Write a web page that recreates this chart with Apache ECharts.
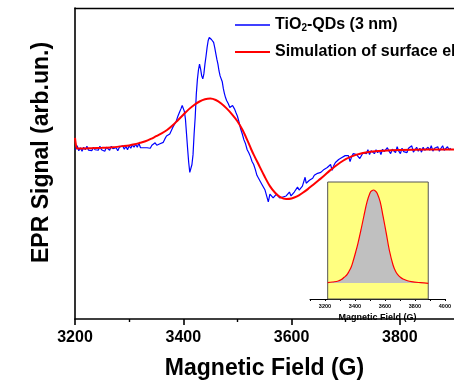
<!DOCTYPE html>
<html><head><meta charset="utf-8">
<script src="https://cdn.jsdelivr.net/npm/echarts@6/dist/echarts.min.js"></script>
<style>html,body{margin:0;padding:0;background:#fff}#c{width:454px;height:385px}</style>
</head><body><div id="c"></div>
<script>
const FONT = '"Liberation Sans", Arial, Helvetica, sans-serif';

// Main plot axis
const mainXRange = [3200, 3900];
const mainYRange = [-173, 143];
const mainMajorTicks = [3200, 3400, 3600, 3800];
const mainMinorTicks = [3300, 3500, 3700];

// Inset axis
const insetXRange = [3100, 4000];
const insetYRange = [-16, 101];
const insetBox = [3218, 3889];

const legendNames = ['TiO2-QDs (3 nm)', 'Simulation of surface electrons'];

// EPR signal, TiO2-QDs (3 nm): [field G, signal arb.]
const blueData = [
[3201,-1],[3204,3],[3207,-2],[3210,1],[3213,-2.5],[3216,1.5],[3219,-1],[3222,2.5],[3225,-1.5],[3228,0.5],
[3231,-2],[3234,1.5],[3237,-1],[3240,1],[3243,-1.5],[3246,2.5],[3249,-1],[3252,1],[3255,-2.5],[3258,1.5],
[3261,-0.5],[3264,-1.5],[3267,2.5],[3270,0],[3273,-2],[3276,1],[3279,-2],[3282,1.5],[3285,0],[3288,3],
[3291,-0.5],[3294,2.5],[3297,-1],[3300,3],[3303,0.5],[3306,4],[3309,1.5],[3312,4.5],[3315,1.5],[3318,5.5],
[3321,1],[3324,-0.5],[3327,1],[3330,-1],[3333,1],[3336,2],[3339,0.5],[3342,3.5],[3345,3],[3348,6],
[3351,3.5],[3354,5.5],[3357,5],[3360,7],[3363,6.5],[3366,10],[3369,13],[3372,11],[3375,15],[3378,17],
[3381,22],[3384,23],[3387,28],[3390,33],[3393,37],[3396,41],[3398,44],[3400,43],[3402,38],[3404,30],
[3406,15],[3408,0],[3410,-14],[3412,-24],[3414,-22],[3416,-16],[3418,-6],[3420,15],[3422,32],[3424,55],
[3426,70],[3428,80],[3430,86],[3432,81],[3434,74],[3436,71],[3438,76],[3440,86],[3442,94],[3444,103],
[3446,110],[3448,113],[3450,112],[3452,111],[3454,110],[3456,108],[3458,103],[3460,97],[3462,91],[3464,86],
[3466,79],[3468,74],[3470,72],[3472,68],[3474,61],[3476,56],[3478,52],[3480,49],[3483,46],[3486,42],
[3489,40],[3491,44],[3493,45],[3495,40],[3497,37],[3500,33],[3503,27],[3506,20],[3509,15],[3512,9],
[3515,5],[3518,-1],[3521,-4],[3524,-8],[3527,-13],[3530,-16],[3533,-21],[3536,-27],[3539,-30],[3542,-33],
[3545,-36],[3548,-38],[3551,-42],[3554,-44],[3557,-54],[3560,-46],[3563,-44],[3566,-50],[3569,-52],[3572,-46],
[3575,-48],[3578,-50],[3581,-49],[3584,-49],[3587,-50],[3590,-48],[3593,-50],[3596,-44],[3599,-48],[3602,-47],
[3605,-44],[3608,-43],[3611,-39],[3614,-42],[3617,-42],[3620,-38],[3623,-36],[3625,-29],[3627,-35],[3630,-34],
[3633,-32],[3636,-31],[3639,-30],[3642,-27],[3645,-28],[3648,-25],[3651,-24],[3654,-24],[3657,-22],[3660,-21],
[3663,-21],[3666,-19],[3669,-17],[3672,-16],[3675,-22],[3678,-17],[3681,-14],[3684,-13],[3687,-11],[3690,-11],
[3693,-9],[3696,-10],[3699,-7],[3702,-6],[3705,-7],[3708,-13],[3711,-8],[3714,-5],[3717,-4],[3720,-6],
[3723,-4],[3726,-10],[3729,-8],[3732,-4],[3735,-3],[3738,-5],[3741,-1],[3744,-6],[3747,-2],[3750,-4],
[3753,-5],[3756,-1],[3759,-4],[3762,-1.5],[3765,-6],[3768,-0.5],[3771,-3],[3774,-4],[3777,1],[3780,-2.5],
[3783,-5],[3786,-0.5],[3789,-1],[3792,-4],[3795,2],[3798,-2.5],[3801,-5],[3804,0.5],[3807,-3],[3810,-1],
[3813,-4],[3816,0.5],[3819,-1.5],[3822,3],[3825,-3.5],[3828,-1],[3831,1.5],[3834,-2.5],[3837,0.5],[3840,-3.5],
[3843,1.5],[3846,-1.5],[3849,-2.5],[3852,1.5],[3855,-1.5],[3858,3],[3861,-2.5],[3864,0.5],[3867,-1],[3870,2],
[3873,-2.5],[3876,0.5],[3879,3],[3882,-1.5],[3885,0.5],[3888,2],[3891,-1],[3894,0.5]
];

// Simulation of surface electrons: [field G, signal arb.]
const redData = [
[3200,11],[3202,3],[3204,0.3],[3215,0.3],[3230,0.6],[3250,1],[3270,1.6],[3290,2.7],[3300,3.4],[3310,4.5],
[3320,6],[3330,7.6],[3340,10],[3350,12.8],[3360,15.6],[3370,19],[3380,23.5],[3390,29],[3400,34.5],[3410,40],
[3420,44.5],[3430,48],[3440,50.3],[3450,51],[3460,49.5],[3470,46],[3480,41],[3490,35],[3500,28],[3510,18.5],
[3520,6.5],[3525,0],[3530,-6],[3540,-17],[3550,-28],[3560,-38],[3570,-45],[3580,-49.5],[3590,-51],[3600,-50.5],
[3610,-48.5],[3620,-45],[3630,-41],[3640,-36.5],[3650,-32],[3660,-27.5],[3670,-22.5],[3680,-18],[3690,-14],[3700,-10.5],
[3710,-8],[3720,-6],[3730,-4.5],[3740,-3.5],[3750,-2.8],[3770,-2],[3800,-1.4],[3850,-0.9],[3900,-0.7]
];

// Inset: integrated signal [field G, intensity]
const insetData = [
[3218,0.3],[3250,1],[3288,2],[3310,3.5],[3328,5.7],[3345,8],[3359,11.3],[3375,16],[3390,23],[3405,31],
[3420,39.7],[3440,53],[3461,68],[3481,81.3],[3501,90.3],[3513,92.3],[3524,93],[3536,92],[3548,89.7],[3568,81.3],
[3588,66.3],[3609,49.7],[3629,33],[3654,18],[3670,12],[3684,8.7],[3705,5.5],[3725,3.7],[3750,2.2],[3776,1.3],
[3837,0.3],[3889,-0.3]
];

const chart = echarts.init(document.getElementById('c'), null, {renderer: 'canvas'});
const bold = {color: '#000', fontFamily: FONT, fontWeight: 'bold'};
const legendText = Object.assign({fontSize: 16, rich: {
  b: Object.assign({fontSize: 16}, bold),
  s: Object.assign({fontSize: 10, verticalAlign: 'bottom', padding: [7, 0, 0, 0]}, bold)
}}, bold);
const legendFmt = n => n === legendNames[0] ? '{b|TiO}{s|2}{b|-QDs (3 nm)}' : n;

chart.setOption({
  animation: false,
  backgroundColor: '#fff',
  grid: [
    {left: 75, top: 8, width: 392, height: 316},
    {left: 310, top: 182, width: 148, height: 117}
  ],
  legend: [
    {data: [legendNames[0]], left: 230, top: 12, icon: 'rect', itemWidth: 35, itemHeight: 1.3,
     textStyle: legendText, formatter: legendFmt},
    {data: [legendNames[1]], left: 230, top: 39, icon: 'rect', itemWidth: 35, itemHeight: 2,
     textStyle: legendText, formatter: legendFmt}
  ],
  xAxis: [
    {
      gridIndex: 0, type: 'value', position: 'bottom', min: mainXRange[0], max: mainXRange[1],
      axisLine: {show: true, onZero: false, lineStyle: {color: '#000', width: 1.6}},
      axisTick: {show: true, length: 6, customValues: mainMajorTicks, lineStyle: {color: '#000', width: 1.6}},
      axisLabel: Object.assign({fontSize: 16, margin: 11, customValues: mainMajorTicks,
        formatter: v => String(v)}, bold),
      splitLine: {show: false},
      name: 'Magnetic Field (G)', nameLocation: 'middle', nameGap: 38,
      nameTextStyle: Object.assign({fontSize: 23}, bold)
    },
    {
      gridIndex: 0, type: 'value', position: 'bottom', min: mainXRange[0], max: mainXRange[1],
      axisLine: {show: false, onZero: false},
      axisTick: {show: true, length: 3, customValues: mainMinorTicks, lineStyle: {color: '#000', width: 1.4}},
      axisLabel: {show: false}, splitLine: {show: false}
    },
    {
      gridIndex: 0, type: 'value', position: 'top', min: mainXRange[0], max: mainXRange[1],
      axisLine: {show: true, onZero: false, lineStyle: {color: '#000', width: 1.3}},
      axisTick: {show: false}, axisLabel: {show: false}, splitLine: {show: false}
    },
    {
      gridIndex: 1, type: 'value', position: 'bottom', min: insetXRange[0], max: insetXRange[1], interval: 100,
      axisLine: {show: true, onZero: false, lineStyle: {color: '#000', width: 1}},
      axisTick: {show: true, length: 2, lineStyle: {color: '#000', width: 1}},
      axisLabel: Object.assign({fontSize: 5.5, margin: 4,
        formatter: v => (v % 200 === 0 ? String(v) : '')}, bold),
      splitLine: {show: false},
      name: 'Magnetic Field (G)', nameLocation: 'middle', nameGap: 14,
      nameTextStyle: Object.assign({fontSize: 9}, bold)
    }
  ],
  yAxis: [
    {
      gridIndex: 0, type: 'value', min: mainYRange[0], max: mainYRange[1],
      axisLine: {show: true, onZero: false, lineStyle: {color: '#000', width: 1.6}},
      axisTick: {show: false}, axisLabel: {show: false}, splitLine: {show: false},
      name: 'EPR Signal (arb.un.)', nameLocation: 'middle', nameGap: 22,
      nameTextStyle: Object.assign({fontSize: 23, padding: [0, 0, 0, 22]}, bold)
    },
    {
      gridIndex: 1, type: 'value', min: insetYRange[0], max: insetYRange[1], show: false,
      splitLine: {show: false}
    }
  ],
  series: [
    {
      name: legendNames[0], type: 'line', xAxisIndex: 0, yAxisIndex: 0,
      data: blueData, symbol: 'none', z: 2,
      itemStyle: {color: '#0000ff'},
      lineStyle: {color: '#0000ff', width: 1.2}
    },
    {
      name: legendNames[1], type: 'line', xAxisIndex: 0, yAxisIndex: 0,
      data: redData, symbol: 'none', smooth: 0.3, z: 3,
      itemStyle: {color: '#ff0000'},
      lineStyle: {color: '#ff0000', width: 2}
    },
    {
      type: 'line', xAxisIndex: 3, yAxisIndex: 1,
      data: insetData, symbol: 'none', smooth: 0.4, z: 10,
      lineStyle: {color: '#ff0000', width: 1.2},
      areaStyle: {color: '#c0c0c0', opacity: 1},
      markArea: {
        silent: true,
        itemStyle: {color: '#ffff80', borderColor: '#555', borderWidth: 1},
        data: [[{xAxis: insetBox[0]}, {xAxis: insetBox[1]}]]
      }
    }
  ]
});
</script>
</body></html>
